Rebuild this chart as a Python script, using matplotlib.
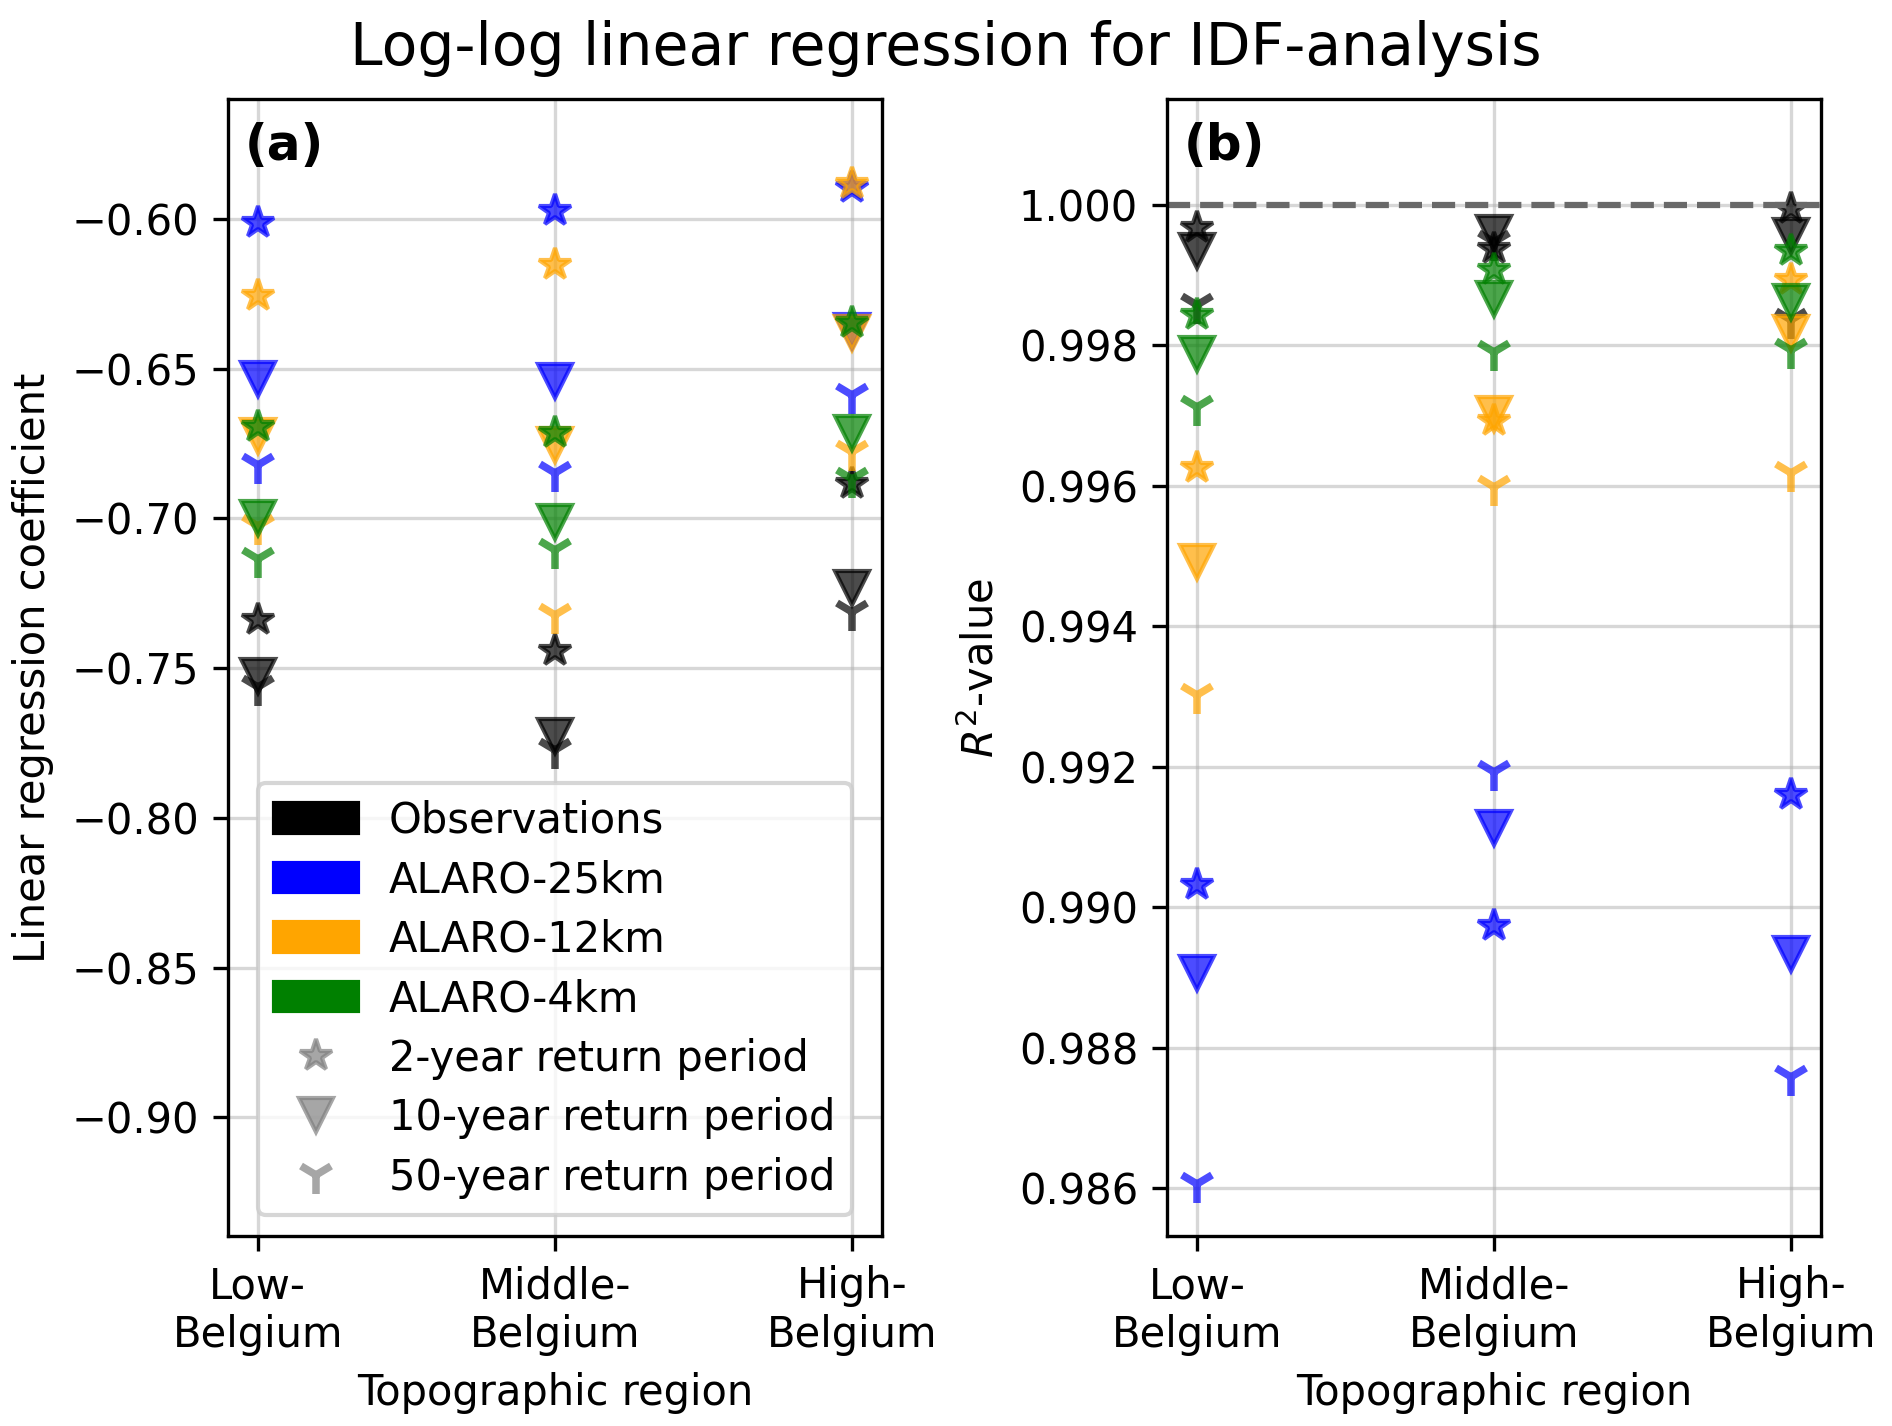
import matplotlib
matplotlib.use("Agg")
import matplotlib.pyplot as plt
from matplotlib.patches import Patch
from matplotlib.lines import Line2D
import numpy as np

regions = ["Low-\nBelgium", "Middle-\nBelgium", "High-\nBelgium"]
models = ["Observations", "ALARO-25km", "ALARO-12km", "ALARO-4km"]
colors = ["black", "blue", "orange", "green"]
periods = ["2-year return period", "10-year return period", "50-year return period"]
markers = ["*", "v", "1"]

# (a) regression coefficient, per model: [2yr, 10yr, 50yr] x [Low, Middle, High]
coef_obs = [[-0.734, -0.7442, -0.6884],
            [-0.7526, -0.7728, -0.7233],
            [-0.7564, -0.7775, -0.7314]]
coef_25km = [[-0.6013, -0.5972, -0.5897],
             [-0.6536, -0.6541, -0.6375],
             [-0.6822, -0.6848, -0.6587]]
coef_12km = [[-0.6257, -0.6153, -0.5883],
             [-0.6726, -0.6754, -0.6380],
             [-0.7027, -0.7321, -0.6777]]
coef_4km = [[-0.6694, -0.6714, -0.6347],
            [-0.6999, -0.7013, -0.6714],
            [-0.7136, -0.7104, -0.6867]]

# (b) R^2 values, same layout
r2_obs = [[0.99967, 0.99938, 0.99995],
          [0.99935, 0.99960, 0.99956],
          [0.99858, 0.99948, 0.99836]]
r2_25km = [[0.99032, 0.98974, 0.99160],
           [0.98907, 0.99113, 0.98934],
           [0.98606, 0.99193, 0.98758]]
r2_12km = [[0.99625, 0.99692, 0.99893],
           [0.99492, 0.99702, 0.99818],
           [0.99303, 0.99599, 0.99618]]
r2_4km = [[0.99843, 0.99907, 0.99934],
          [0.99788, 0.99866, 0.99862],
          [0.99713, 0.99791, 0.99794]]

coef_all = [coef_obs, coef_25km, coef_12km, coef_4km]
r2_all = [r2_obs, r2_25km, r2_12km, r2_4km]

x = np.arange(len(regions))

fig, axes = plt.subplots(1, 2, figsize=(1892 / 300, 1426 / 300), dpi=300)
fig.subplots_adjust(left=0.1205, right=0.9625, bottom=0.1332, top=0.9306, wspace=0.437)

for ax, values in zip(axes, [coef_all, r2_all]):
    for model_vals, color in zip(values, colors):
        for vals, marker in zip(model_vals, markers):
            if marker == "1":
                ax.plot(x, vals, linestyle="none", marker=marker, color=color,
                        alpha=0.7, markersize=9, markeredgewidth=1.8)
            else:
                ax.plot(x, vals, linestyle="none", marker=marker, color=color,
                        alpha=0.7, markersize=8)
    ax.set_xticks(x)
    ax.set_xticklabels(regions)
    ax.set_xlabel("Topographic region")
    ax.grid(alpha=0.5)

ax1, ax2 = axes
ax1.set_ylim(-0.9397, -0.5599)
ax1.set_ylabel("Linear regression coefficient")
ax1.text(0.025, 0.946, "(a)", transform=ax1.transAxes, fontsize=12, fontweight="bold")

ax2.axhline(1.0, color="dimgray", linestyle="--", linewidth=1.5)
ax2.set_ylim(0.98532, 1.00151)
ax2.set_ylabel(r"$R^2$-value")
ax2.text(0.025, 0.946, "(b)", transform=ax2.transAxes, fontsize=12, fontweight="bold")

handles = [Patch(color=c, label=m) for c, m in zip(colors, models)]
for marker, label in zip(markers, periods):
    if marker == "1":
        handles.append(Line2D([], [], linestyle="none", marker=marker, color="grey",
                              alpha=0.7, markersize=9, markeredgewidth=1.8, label=label))
    else:
        handles.append(Line2D([], [], linestyle="none", marker=marker, color="grey",
                              alpha=0.7, markersize=8, label=label))
ax1.legend(handles=handles, loc="lower center", labelspacing=0.42, handletextpad=0.75)

fig.suptitle("Log-log linear regression for IDF-analysis", fontsize=14,
             x=0.5, y=1 - 65 / 1426, va="baseline")

fig.savefig("out.png", dpi=300)
